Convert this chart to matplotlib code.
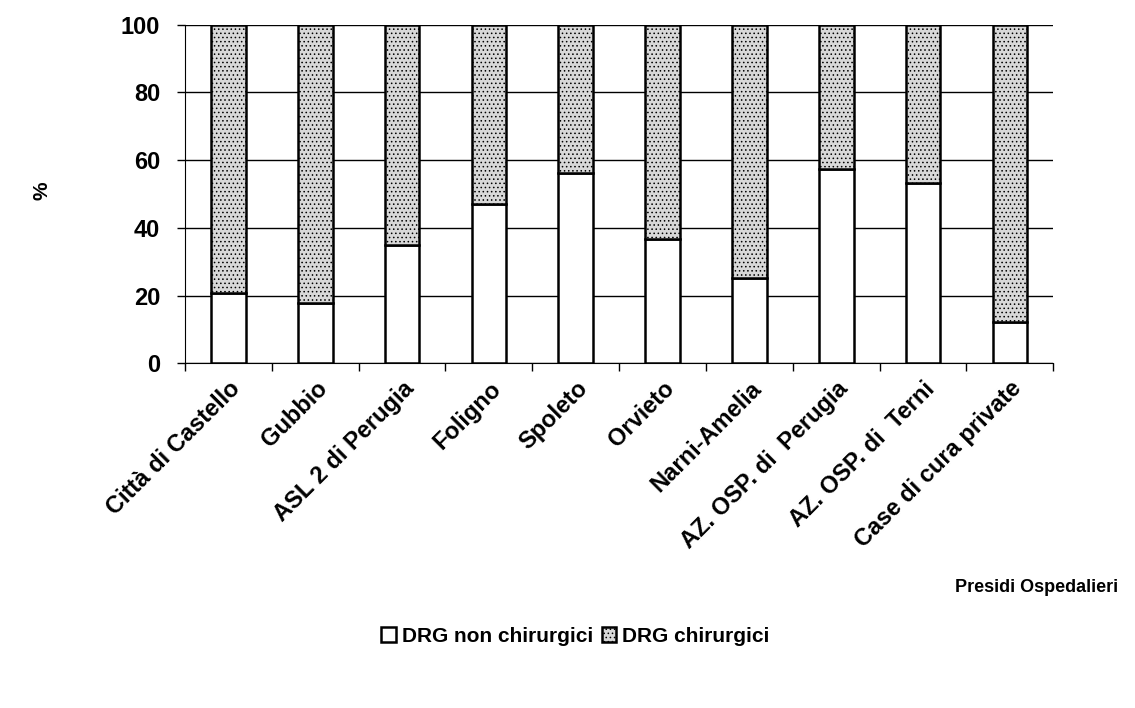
import matplotlib.pyplot as plt
from matplotlib.ticker import MultipleLocator, NullFormatter
import numpy as np

# data
categories = ['Città di Castello', 'Gubbio', 'ASL 2 di Perugia', 'Foligno', 'Spoleto',
              'Orvieto', 'Narni-Amelia', 'AZ. OSP. di  Perugia', 'AZ. OSP. di  Terni',
              'Case di cura private']
non_chirurgici = [20.8, 17.8, 34.9, 47.0, 56.3, 36.7, 25.2, 57.4, 53.2, 12.1]
chirurgici = [100 - v for v in non_chirurgici]

plt.rcParams['font.family'] = ['Liberation Sans', 'DejaVu Sans']
plt.rcParams['font.weight'] = 'bold'
plt.rcParams['hatch.linewidth'] = 0.6
plt.rcParams['hatch.color'] = '#555555'

fig = plt.figure(figsize=(11.35, 7.08), dpi=100)
ax = fig.add_axes([0.163, 0.487, 0.765, 0.478])

x = np.arange(len(categories))
w = 0.4
ax.bar(x, non_chirurgici, w, color='white', edgecolor='black', linewidth=1.8,
       label='DRG non chirurgici', zorder=3)
ax.bar(x, chirurgici, w, bottom=non_chirurgici, color='#d8d8d8', edgecolor='black',
       linewidth=1.8, hatch='....', label='DRG chirurgici', zorder=3)

ax.set_xlim(-0.5, len(categories) - 0.5)
ax.set_ylim(0, 100)
ax.yaxis.set_major_locator(MultipleLocator(20))
ax.grid(axis='y', color='black', linewidth=1.0, zorder=0)

# ticks between categories, labels under bars
ax.set_xticks(np.arange(len(categories) + 1) - 0.5)
ax.xaxis.set_major_formatter(NullFormatter())
ax.set_xticks(x, minor=True)
ax.set_xticklabels(categories, minor=True, rotation=45, ha='right',
                   rotation_mode='anchor', fontsize=17, fontweight='bold')
ax.tick_params(axis='x', which='minor', length=0, pad=10)
ax.tick_params(axis='x', which='major', length=6, width=1, direction='out')
ax.tick_params(axis='y', length=6, width=1, labelsize=17, pad=12)
for t in ax.get_yticklabels():
    t.set_fontweight('bold')

for s in ['top', 'right']:
    ax.spines[s].set_visible(False)

fig.text(0.037, 0.73, '%', rotation=90, fontsize=15, fontweight='bold',
         ha='center', va='center')
fig.text(0.985, 1 - 587 / 708, 'Presidi Ospedalieri', fontsize=13, fontweight='bold',
         ha='right', va='center')

fig.legend(loc='center', bbox_to_anchor=(0.507, 1 - 636 / 708), ncol=2, frameon=False,
           fontsize=15, handlelength=0.7, handleheight=0.7, handletextpad=0.3,
           columnspacing=0.4)

plt.savefig('out.png', dpi=100)
plt.close(fig)
